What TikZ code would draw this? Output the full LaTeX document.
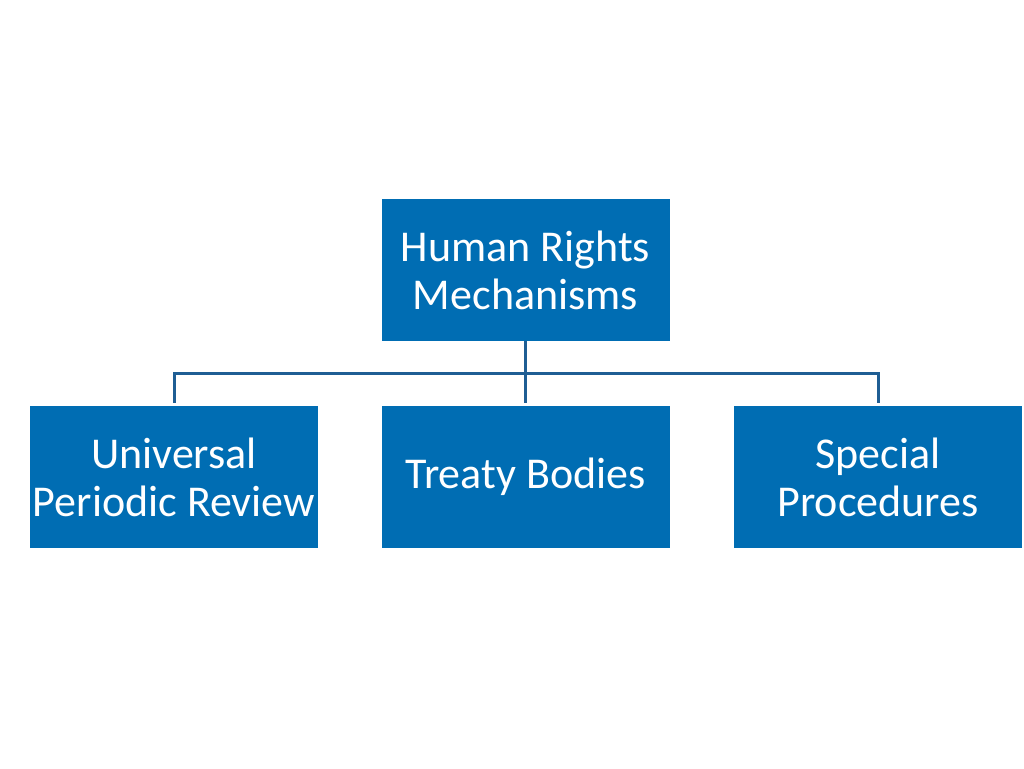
\documentclass[tikz,border=0pt]{standalone}
\usepackage{fontspec}
\setmainfont{Carlito}
\definecolor{boxblue}{HTML}{006DB3}
\definecolor{lineblue}{HTML}{1F5E94}
\begin{document}
\begin{tikzpicture}[x=1pt,y=-1pt,
  box/.style={fill=boxblue,draw=none,minimum width=288pt,minimum height=142pt,
    inner sep=0pt,text=white,align=center,
    font=\fontsize{44pt}{48pt}\selectfont},
  conn/.style={draw=lineblue,line width=3pt}]
\useasboundingbox (0,0) rectangle (1024,768);
\node[box] (top) at (525.5,270) {Human Rights\\Mechanisms};
\node[box] (upr) at (174,477) {Universal\\Periodic Review};
\node[box] (tb) at (525.5,477) {Treaty Bodies};
\node[box] (sp) at (878,477) {Special\\Procedures};
\coordinate (j) at (525.5,373);
\draw[conn] (top.south) -- (j);
\draw[conn,shorten >=3pt] (j) -- (tb.north);
\draw[conn,shorten >=3pt] (j) -| (upr.north);
\draw[conn,shorten >=3pt] (j) -| (sp.north);
\end{tikzpicture}
\end{document}
